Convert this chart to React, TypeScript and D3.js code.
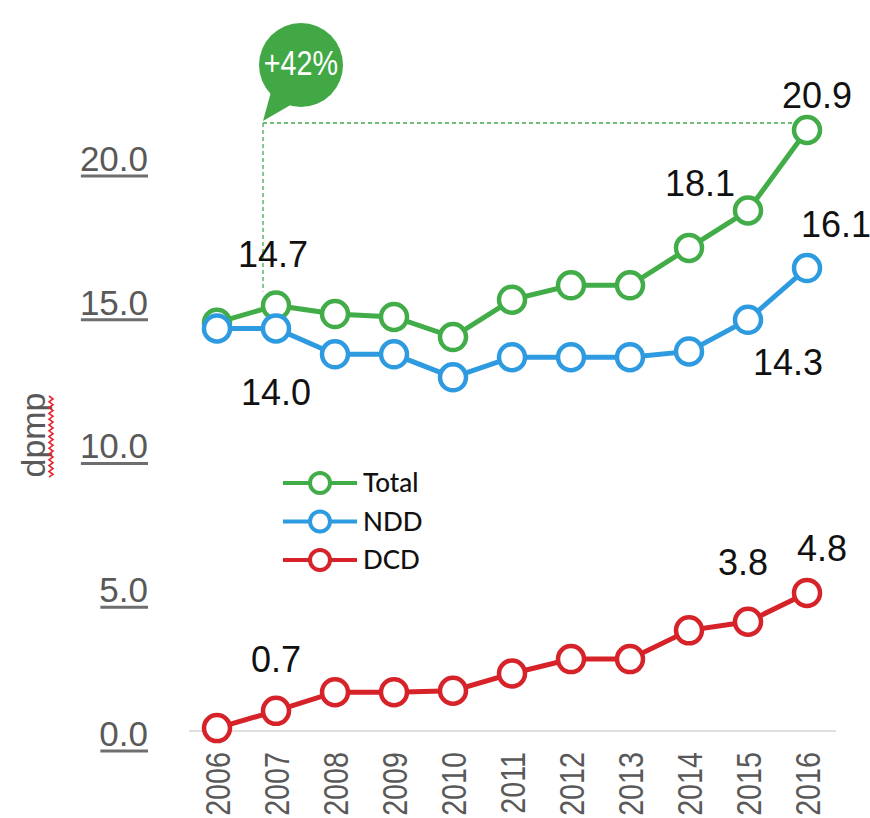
import React from "react";
import * as d3 from "d3";

const years = [2006, 2007, 2008, 2009, 2010, 2011, 2012, 2013, 2014, 2015, 2016];
const totalValues = [14.2, 14.8, 14.5, 14.4, 13.7, 15.0, 15.5, 15.5, 16.8, 18.1, 20.9];
const nddValues = [14.0, 14.0, 13.1, 13.1, 12.3, 13.0, 13.0, 13.0, 13.2, 14.3, 16.1];
const dcdValues = [0.1, 0.7, 1.35, 1.35, 1.4, 2.0, 2.5, 2.5, 3.5, 3.8, 4.8];
const seriesNames = ["Total", "NDD", "DCD"];
const yTicks = [0, 5, 10, 15, 20];
const yAxisTitle = "dpmp";
const calloutText = "+42%";

// value labels: [series index, year index, text]
const valueLabels: [number, number, string][] = [
  [0, 1, "14.7"],
  [0, 9, "18.1"],
  [0, 10, "20.9"],
  [1, 1, "14.0"],
  [1, 9, "14.3"],
  [1, 10, "16.1"],
  [2, 1, "0.7"],
  [2, 9, "3.8"],
  [2, 10, "4.8"],
];

const colors = ["#42ad48", "#2e9be0", "#d62229"];
// label offsets (dx, dy baseline) in px per label, same order as valueLabels
const labelOffsets: [number, number][] = [
  [-3, -38],
  [-48, -15],
  [10, -22],
  [0, 77],
  [40, 55],
  [29, -31],
  [0, -39],
  [-5, -47],
  [15, -32],
];

const W = 870;
const H = 818;

export default function App() {
  const x = d3.scalePoint<number>().domain(years).range([217, 807]);
  const y = d3.scaleLinear().domain([0, 20.9]).range([731, 130]);
  const series = [totalValues, nddValues, dcdValues];
  const line = d3
    .line<number>()
    .x((_, i) => x(years[i]) as number)
    .y((v) => y(v));
  const fmt = d3.format(".1f");
  const font = "'Liberation Sans', Arial, sans-serif";
  const grey = "#595959";

  // decorative wavy spell-check underline
  const squiggle: [number, number][] = [];
  for (let i = 0; i <= 28; i++) squiggle.push([i % 2 === 0 ? 49 : 53, 396 + i * 2.9]);
  const squigglePath = d3.line()(squiggle) as string;

  const x2007 = x(years[1]) as number;
  const x2016 = x(years[10]) as number;
  const topY = y(totalValues[10]) - 7;

  return (
    <svg
      width={W}
      height={H}
      style={{ position: "absolute", left: 0, top: 0, background: "#fff" }}
      fontFamily={font}
    >
      {/* x baseline */}
      <line x1={189} x2={836} y1={y(0)} y2={y(0)} stroke="#d4d4d4" strokeWidth={1.5} />

      {/* y tick labels */}
      {yTicks.map((t) => {
        const txt = fmt(t);
        const w = 35 * (0.556 * (txt.length - 1) + 0.278);
        return (
          <g key={t}>
            <text x={148} y={y(t) + 15} textAnchor="end" fontSize={35} fill={grey}>
              {txt}
            </text>
            <line x1={148 - w + 1} x2={148} y1={y(t) + 20} y2={y(t) + 20} stroke="#6e6e6e" strokeWidth={3} />
          </g>
        );
      })}

      {/* y axis title */}
      <text
        transform={`translate(45, ${435}) rotate(-90)`}
        textAnchor="middle"
        fontSize={34}
        fill={grey}
      >
        {yAxisTitle}
      </text>
      <path d={squigglePath} fill="none" stroke="#e3262b" strokeWidth={1.6} />

      {/* year labels */}
      {years.map((yr) => (
        <text
          key={yr}
          transform={`translate(${(x(yr) as number) + 13}, 752) rotate(-90) scale(0.82, 1)`}
          textAnchor="end"
          fontSize={35}
          fill={grey}
        >
          {yr}
        </text>
      ))}

      {/* callout dashed guides */}
      <line
        x1={x2007 - 13}
        x2={x2007 - 13}
        y1={topY}
        y2={y(totalValues[1]) - 14}
        stroke={colors[0]}
        strokeWidth={1.3}
        strokeDasharray="4 3"
      />
      <line
        x1={x2007 - 13}
        x2={x2016 - 15}
        y1={topY}
        y2={topY}
        stroke={colors[0]}
        strokeWidth={1.3}
        strokeDasharray="4 3"
      />

      {/* callout bubble */}
      <g fill="#41a845">
        <circle cx={x2007 + 25} cy={65} r={42} />
        <path d={`M ${x2007 - 5} 92 L ${x2007 - 13} ${topY - 2} L ${x2007 + 18} 103 Z`} />
      </g>
      <text
        transform={`translate(${x2007 + 25}, 75) scale(0.9, 1.1)`}
        textAnchor="middle"
        fontSize={32}
        fill="#fff"
      >
        {calloutText}
      </text>

      {/* series */}
      {series.map((vals, si) => (
        <g key={si}>
          <path d={line(vals) as string} fill="none" stroke={colors[si]} strokeWidth={5} />
          {vals.map((v, i) => (
            <circle
              key={i}
              cx={x(years[i]) as number}
              cy={y(v)}
              r={13}
              fill="#fff"
              stroke={colors[si]}
              strokeWidth={4.5}
            />
          ))}
        </g>
      ))}

      {/* value labels */}
      {valueLabels.map(([si, yi, txt], k) => (
        <text
          key={k}
          x={(x(years[yi]) as number) + labelOffsets[k][0]}
          y={y(series[si][yi]) + labelOffsets[k][1]}
          textAnchor="middle"
          fontSize={36}
          fill="#111"
        >
          {txt}
        </text>
      ))}

      {/* legend */}
      {seriesNames.map((name, i) => {
        const ly = 483 + i * 38.5;
        return (
          <g key={name}>
            <line x1={283} x2={357} y1={ly} y2={ly} stroke={colors[i]} strokeWidth={4} />
            <circle cx={320} cy={ly} r={10} fill="#fff" stroke={colors[i]} strokeWidth={4} />
            <text x={363} y={ly + 9} fontSize={26} fontFamily="Lato, 'Open Sans', sans-serif" fontWeight={500} fill="#111">
              {name}
            </text>
          </g>
        );
      })}
    </svg>
  );
}
